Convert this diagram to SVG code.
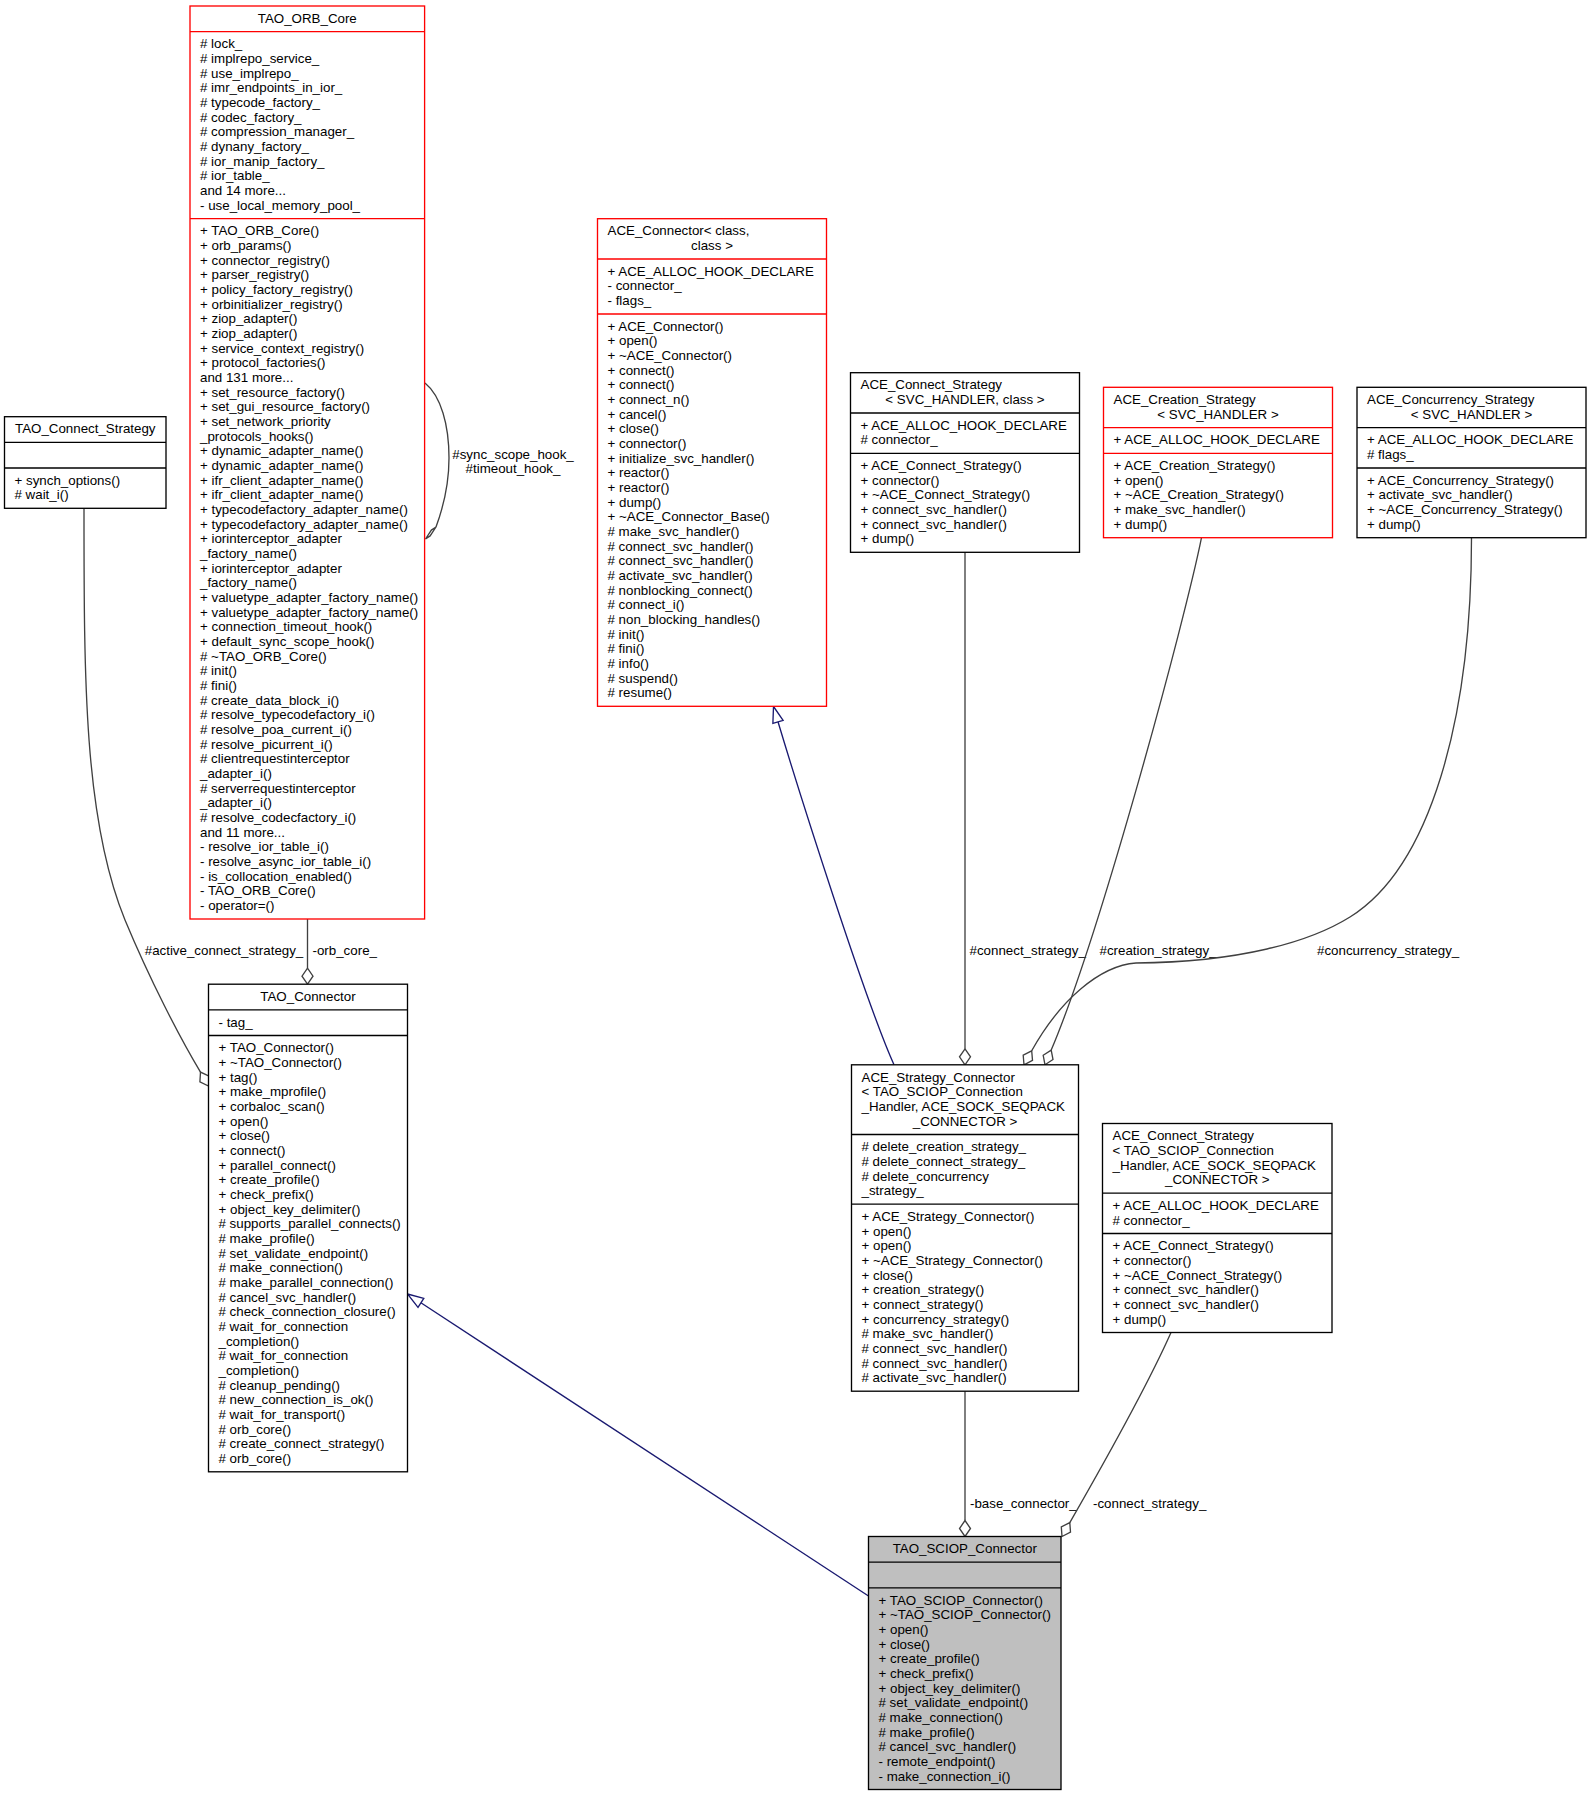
<svg xmlns="http://www.w3.org/2000/svg" width="1592" height="1795" viewBox="0 0 1592 1795">
<style>
text{font-family:"Liberation Sans",Arial,Helvetica,sans-serif;font-size:13.33px;fill:#000}
.b{fill:#fff;stroke:#000;stroke-width:1.33}
.r{stroke:#ff0000}
.g{fill:#bfbfbf}
.s{stroke:#000;stroke-width:1.33}
.sr{stroke:#ff0000;stroke-width:1.33}
.e{fill:none;stroke:#404040;stroke-width:1.33}
.i{fill:none;stroke:#191970;stroke-width:1.33}
.d{fill:#fff;stroke:#404040;stroke-width:1.33}
.t{fill:#fff;stroke:#191970;stroke-width:1.33}
.c{text-anchor:middle}
</style>
<rect width="1592" height="1795" fill="#fff"/>

<g id="edges">
  <path class="e" d="M425,383 C441,396 449,425 449,458 C449,485 443,508 436,527"/>
  <polygon class="d" points="425.5,539 430.1,535.9 436,527 431.4,530.1"/>
  <text class="c" x="513" y="459">#sync_scope_hook_</text>
  <text class="c" x="513" y="473">#timeout_hook_</text>

  <path class="e" d="M307.5,919 L307.5,968.2"/>
  <polygon class="d" points="307.5,984.2 313,976.2 307.5,968.2 302,976.2"/>
  <text x="312.5" y="955">-orb_core_</text>

  <path class="e" d="M84,508.3 C84,680 84,820 125,920 C150,980 180,1038 200.5,1072.1"/>
  <polygon class="d" points="208.5,1086 209.1,1076.2 200.5,1072.1 199.9,1081.9"/>
  <text class="c" x="224" y="955">#active_connect_strategy_</text>

  <path class="i" d="M894,1064.8 C865,1000 800,795 778,721.8"/>
  <polygon class="t" points="773.5,706.5 783.1,720.3 772.9,723.3"/>

  <path class="i" d="M868.5,1596 L420.9,1302.8"/>
  <polygon class="t" points="407.5,1294 423.8,1298.3 418,1307.3"/>

  <path class="e" d="M965,552.3 L965,1048.8"/>
  <polygon class="d" points="965,1064.8 970.5,1056.8 965,1048.8 959.5,1056.8"/>
  <text x="969.5" y="955">#connect_strategy_</text>

  <path class="e" d="M1201.5,537.7 C1185,620 1100,935 1051.2,1050.1"/>
  <polygon class="d" points="1045,1064.8 1053,1059.5 1051.2,1050.1 1043.2,1055.3"/>
  <text x="1099.5" y="955">#creation_strategy_</text>

  <path class="e" d="M1471.5,537.7 C1471.5,720 1430,867 1350,917 C1310,942 1240,962 1136,963 C1100,965.5 1060,1000 1031.7,1050.8"/>
  <polygon class="d" points="1024,1064.8 1032.5,1060.4 1031.7,1050.8 1023.2,1055.2"/>
  <text x="1317" y="955">#concurrency_strategy_</text>

  <path class="e" d="M965,1391.2 L965,1520.5"/>
  <polygon class="d" points="965,1536.5 970.5,1528.5 965,1520.5 959.5,1528.5"/>
  <text x="970" y="1508">-base_connector_</text>

  <path class="e" d="M1171,1332.5 C1150,1380 1100,1470 1069.8,1522.6"/>
  <polygon class="d" points="1062,1536.5 1070.5,1532.1 1069.8,1522.6 1061.3,1526.9"/>
  <text x="1093" y="1508">-connect_strategy_</text>
</g>

<g id="node-TAO_ORB_Core">
  <rect class="b r" x="190" y="6" width="234.6" height="913"/>
  <line class="sr" x1="190" y1="31.67" x2="424.6" y2="31.67"/>
  <line class="sr" x1="190" y1="218.67" x2="424.6" y2="218.67"/>
  <text class="c" x="307.3" y="22.7">TAO_ORB_Core</text>
  <text x="200" y="48.4"><tspan x="200"># lock_</tspan><tspan x="200" dy="14.667"># implrepo_service_</tspan><tspan x="200" dy="14.667"># use_implrepo_</tspan><tspan x="200" dy="14.667"># imr_endpoints_in_ior_</tspan><tspan x="200" dy="14.667"># typecode_factory_</tspan><tspan x="200" dy="14.667"># codec_factory_</tspan><tspan x="200" dy="14.667"># compression_manager_</tspan><tspan x="200" dy="14.667"># dynany_factory_</tspan><tspan x="200" dy="14.667"># ior_manip_factory_</tspan><tspan x="200" dy="14.667"># ior_table_</tspan><tspan x="200" dy="14.667">and 14 more...</tspan><tspan x="200" dy="14.667">- use_local_memory_pool_</tspan></text>
  <text x="200" y="235.4"><tspan x="200">+ TAO_ORB_Core()</tspan><tspan x="200" dy="14.667">+ orb_params()</tspan><tspan x="200" dy="14.667">+ connector_registry()</tspan><tspan x="200" dy="14.667">+ parser_registry()</tspan><tspan x="200" dy="14.667">+ policy_factory_registry()</tspan><tspan x="200" dy="14.667">+ orbinitializer_registry()</tspan><tspan x="200" dy="14.667">+ ziop_adapter()</tspan><tspan x="200" dy="14.667">+ ziop_adapter()</tspan><tspan x="200" dy="14.667">+ service_context_registry()</tspan><tspan x="200" dy="14.667">+ protocol_factories()</tspan><tspan x="200" dy="14.667">and 131 more...</tspan><tspan x="200" dy="14.667">+ set_resource_factory()</tspan><tspan x="200" dy="14.667">+ set_gui_resource_factory()</tspan><tspan x="200" dy="14.667">+ set_network_priority</tspan><tspan x="200" dy="14.667">_protocols_hooks()</tspan><tspan x="200" dy="14.667">+ dynamic_adapter_name()</tspan><tspan x="200" dy="14.667">+ dynamic_adapter_name()</tspan><tspan x="200" dy="14.667">+ ifr_client_adapter_name()</tspan><tspan x="200" dy="14.667">+ ifr_client_adapter_name()</tspan><tspan x="200" dy="14.667">+ typecodefactory_adapter_name()</tspan><tspan x="200" dy="14.667">+ typecodefactory_adapter_name()</tspan><tspan x="200" dy="14.667">+ iorinterceptor_adapter</tspan><tspan x="200" dy="14.667">_factory_name()</tspan><tspan x="200" dy="14.667">+ iorinterceptor_adapter</tspan><tspan x="200" dy="14.667">_factory_name()</tspan><tspan x="200" dy="14.667">+ valuetype_adapter_factory_name()</tspan><tspan x="200" dy="14.667">+ valuetype_adapter_factory_name()</tspan><tspan x="200" dy="14.667">+ connection_timeout_hook()</tspan><tspan x="200" dy="14.667">+ default_sync_scope_hook()</tspan><tspan x="200" dy="14.667"># ~TAO_ORB_Core()</tspan><tspan x="200" dy="14.667"># init()</tspan><tspan x="200" dy="14.667"># fini()</tspan><tspan x="200" dy="14.667"># create_data_block_i()</tspan><tspan x="200" dy="14.667"># resolve_typecodefactory_i()</tspan><tspan x="200" dy="14.667"># resolve_poa_current_i()</tspan><tspan x="200" dy="14.667"># resolve_picurrent_i()</tspan><tspan x="200" dy="14.667"># clientrequestinterceptor</tspan><tspan x="200" dy="14.667">_adapter_i()</tspan><tspan x="200" dy="14.667"># serverrequestinterceptor</tspan><tspan x="200" dy="14.667">_adapter_i()</tspan><tspan x="200" dy="14.667"># resolve_codecfactory_i()</tspan><tspan x="200" dy="14.667">and 11 more...</tspan><tspan x="200" dy="14.667">- resolve_ior_table_i()</tspan><tspan x="200" dy="14.667">- resolve_async_ior_table_i()</tspan><tspan x="200" dy="14.667">- is_collocation_enabled()</tspan><tspan x="200" dy="14.667">- TAO_ORB_Core()</tspan><tspan x="200" dy="14.667">- operator=()</tspan></text>
</g>

<g id="node-TAO_Connect_Strategy">
  <rect class="b" x="4.5" y="416.7" width="161.5" height="91.6"/>
  <line class="s" x1="4.5" y1="442.3" x2="166" y2="442.3"/>
  <line class="s" x1="4.5" y1="468" x2="166" y2="468"/>
  <text class="c" x="85.25" y="433.4">TAO_Connect_Strategy</text>
  <text x="14.5" y="484.7"><tspan x="14.5">+ synch_options()</tspan><tspan x="14.5" dy="14.667"># wait_i()</tspan></text>
</g>

<g id="node-ACE_Connector">
  <rect class="b r" x="597.5" y="218.7" width="229" height="487.6"/>
  <line class="sr" x1="597.5" y1="259" x2="826.5" y2="259"/>
  <line class="sr" x1="597.5" y1="314" x2="826.5" y2="314"/>
  <text x="607.5" y="235.4">ACE_Connector&lt; class,</text>
  <text class="c" x="712" y="250.1">class &gt;</text>
  <text x="607.5" y="275.7"><tspan x="607.5">+ ACE_ALLOC_HOOK_DECLARE</tspan><tspan x="607.5" dy="14.667">- connector_</tspan><tspan x="607.5" dy="14.667">- flags_</tspan></text>
  <text x="607.5" y="330.7"><tspan x="607.5">+ ACE_Connector()</tspan><tspan x="607.5" dy="14.667">+ open()</tspan><tspan x="607.5" dy="14.667">+ ~ACE_Connector()</tspan><tspan x="607.5" dy="14.667">+ connect()</tspan><tspan x="607.5" dy="14.667">+ connect()</tspan><tspan x="607.5" dy="14.667">+ connect_n()</tspan><tspan x="607.5" dy="14.667">+ cancel()</tspan><tspan x="607.5" dy="14.667">+ close()</tspan><tspan x="607.5" dy="14.667">+ connector()</tspan><tspan x="607.5" dy="14.667">+ initialize_svc_handler()</tspan><tspan x="607.5" dy="14.667">+ reactor()</tspan><tspan x="607.5" dy="14.667">+ reactor()</tspan><tspan x="607.5" dy="14.667">+ dump()</tspan><tspan x="607.5" dy="14.667">+ ~ACE_Connector_Base()</tspan><tspan x="607.5" dy="14.667"># make_svc_handler()</tspan><tspan x="607.5" dy="14.667"># connect_svc_handler()</tspan><tspan x="607.5" dy="14.667"># connect_svc_handler()</tspan><tspan x="607.5" dy="14.667"># activate_svc_handler()</tspan><tspan x="607.5" dy="14.667"># nonblocking_connect()</tspan><tspan x="607.5" dy="14.667"># connect_i()</tspan><tspan x="607.5" dy="14.667"># non_blocking_handles()</tspan><tspan x="607.5" dy="14.667"># init()</tspan><tspan x="607.5" dy="14.667"># fini()</tspan><tspan x="607.5" dy="14.667"># info()</tspan><tspan x="607.5" dy="14.667"># suspend()</tspan><tspan x="607.5" dy="14.667"># resume()</tspan></text>
</g>

<g id="node-ACE_Connect_Strategy_SVC">
  <rect class="b" x="850.5" y="372.7" width="229" height="179.6"/>
  <line class="s" x1="850.5" y1="413" x2="1079.5" y2="413"/>
  <line class="s" x1="850.5" y1="453.3" x2="1079.5" y2="453.3"/>
  <text x="860.5" y="389.4">ACE_Connect_Strategy</text>
  <text class="c" x="965" y="404.1">&lt; SVC_HANDLER, class &gt;</text>
  <text x="860.5" y="429.7"><tspan x="860.5">+ ACE_ALLOC_HOOK_DECLARE</tspan><tspan x="860.5" dy="14.667"># connector_</tspan></text>
  <text x="860.5" y="470"><tspan x="860.5">+ ACE_Connect_Strategy()</tspan><tspan x="860.5" dy="14.667">+ connector()</tspan><tspan x="860.5" dy="14.667">+ ~ACE_Connect_Strategy()</tspan><tspan x="860.5" dy="14.667">+ connect_svc_handler()</tspan><tspan x="860.5" dy="14.667">+ connect_svc_handler()</tspan><tspan x="860.5" dy="14.667">+ dump()</tspan></text>
</g>

<g id="node-ACE_Creation_Strategy">
  <rect class="b r" x="1103.5" y="387.3" width="229" height="150.4"/>
  <line class="sr" x1="1103.5" y1="427.7" x2="1332.5" y2="427.7"/>
  <line class="sr" x1="1103.5" y1="453.3" x2="1332.5" y2="453.3"/>
  <text x="1113.5" y="404">ACE_Creation_Strategy</text>
  <text class="c" x="1218" y="418.7">&lt; SVC_HANDLER &gt;</text>
  <text x="1113.5" y="444.4">+ ACE_ALLOC_HOOK_DECLARE</text>
  <text x="1113.5" y="470"><tspan x="1113.5">+ ACE_Creation_Strategy()</tspan><tspan x="1113.5" dy="14.667">+ open()</tspan><tspan x="1113.5" dy="14.667">+ ~ACE_Creation_Strategy()</tspan><tspan x="1113.5" dy="14.667">+ make_svc_handler()</tspan><tspan x="1113.5" dy="14.667">+ dump()</tspan></text>
</g>

<g id="node-ACE_Concurrency_Strategy">
  <rect class="b" x="1357" y="387.3" width="229" height="150.4"/>
  <line class="s" x1="1357" y1="427.7" x2="1586" y2="427.7"/>
  <line class="s" x1="1357" y1="468" x2="1586" y2="468"/>
  <text x="1367" y="404">ACE_Concurrency_Strategy</text>
  <text class="c" x="1471.5" y="418.7">&lt; SVC_HANDLER &gt;</text>
  <text x="1367" y="444.4"><tspan x="1367">+ ACE_ALLOC_HOOK_DECLARE</tspan><tspan x="1367" dy="14.667"># flags_</tspan></text>
  <text x="1367" y="484.7"><tspan x="1367">+ ACE_Concurrency_Strategy()</tspan><tspan x="1367" dy="14.667">+ activate_svc_handler()</tspan><tspan x="1367" dy="14.667">+ ~ACE_Concurrency_Strategy()</tspan><tspan x="1367" dy="14.667">+ dump()</tspan></text>
</g>

<g id="node-TAO_Connector">
  <rect class="b" x="208.5" y="984.2" width="199" height="487.6"/>
  <line class="s" x1="208.5" y1="1009.9" x2="407.5" y2="1009.9"/>
  <line class="s" x1="208.5" y1="1035.5" x2="407.5" y2="1035.5"/>
  <text class="c" x="308" y="1000.9">TAO_Connector</text>
  <text x="218.5" y="1026.6">- tag_</text>
  <text x="218.5" y="1052.2"><tspan x="218.5">+ TAO_Connector()</tspan><tspan x="218.5" dy="14.667">+ ~TAO_Connector()</tspan><tspan x="218.5" dy="14.667">+ tag()</tspan><tspan x="218.5" dy="14.667">+ make_mprofile()</tspan><tspan x="218.5" dy="14.667">+ corbaloc_scan()</tspan><tspan x="218.5" dy="14.667">+ open()</tspan><tspan x="218.5" dy="14.667">+ close()</tspan><tspan x="218.5" dy="14.667">+ connect()</tspan><tspan x="218.5" dy="14.667">+ parallel_connect()</tspan><tspan x="218.5" dy="14.667">+ create_profile()</tspan><tspan x="218.5" dy="14.667">+ check_prefix()</tspan><tspan x="218.5" dy="14.667">+ object_key_delimiter()</tspan><tspan x="218.5" dy="14.667"># supports_parallel_connects()</tspan><tspan x="218.5" dy="14.667"># make_profile()</tspan><tspan x="218.5" dy="14.667"># set_validate_endpoint()</tspan><tspan x="218.5" dy="14.667"># make_connection()</tspan><tspan x="218.5" dy="14.667"># make_parallel_connection()</tspan><tspan x="218.5" dy="14.667"># cancel_svc_handler()</tspan><tspan x="218.5" dy="14.667"># check_connection_closure()</tspan><tspan x="218.5" dy="14.667"># wait_for_connection</tspan><tspan x="218.5" dy="14.667">_completion()</tspan><tspan x="218.5" dy="14.667"># wait_for_connection</tspan><tspan x="218.5" dy="14.667">_completion()</tspan><tspan x="218.5" dy="14.667"># cleanup_pending()</tspan><tspan x="218.5" dy="14.667"># new_connection_is_ok()</tspan><tspan x="218.5" dy="14.667"># wait_for_transport()</tspan><tspan x="218.5" dy="14.667"># orb_core()</tspan><tspan x="218.5" dy="14.667"># create_connect_strategy()</tspan><tspan x="218.5" dy="14.667"># orb_core()</tspan></text>
</g>

<g id="node-ACE_Strategy_Connector">
  <rect class="b" x="851.5" y="1064.8" width="227" height="326.4"/>
  <line class="s" x1="851.5" y1="1134.5" x2="1078.5" y2="1134.5"/>
  <line class="s" x1="851.5" y1="1204.2" x2="1078.5" y2="1204.2"/>
  <text x="861.5" y="1081.5"><tspan x="861.5">ACE_Strategy_Connector</tspan><tspan x="861.5" dy="14.667">&lt; TAO_SCIOP_Connection</tspan><tspan x="861.5" dy="14.667">_Handler, ACE_SOCK_SEQPACK</tspan></text>
  <text class="c" x="965" y="1125.5">_CONNECTOR &gt;</text>
  <text x="861.5" y="1151.2"><tspan x="861.5"># delete_creation_strategy_</tspan><tspan x="861.5" dy="14.667"># delete_connect_strategy_</tspan><tspan x="861.5" dy="14.667"># delete_concurrency</tspan><tspan x="861.5" dy="14.667">_strategy_</tspan></text>
  <text x="861.5" y="1220.9"><tspan x="861.5">+ ACE_Strategy_Connector()</tspan><tspan x="861.5" dy="14.667">+ open()</tspan><tspan x="861.5" dy="14.667">+ open()</tspan><tspan x="861.5" dy="14.667">+ ~ACE_Strategy_Connector()</tspan><tspan x="861.5" dy="14.667">+ close()</tspan><tspan x="861.5" dy="14.667">+ creation_strategy()</tspan><tspan x="861.5" dy="14.667">+ connect_strategy()</tspan><tspan x="861.5" dy="14.667">+ concurrency_strategy()</tspan><tspan x="861.5" dy="14.667"># make_svc_handler()</tspan><tspan x="861.5" dy="14.667"># connect_svc_handler()</tspan><tspan x="861.5" dy="14.667"># connect_svc_handler()</tspan><tspan x="861.5" dy="14.667"># activate_svc_handler()</tspan></text>
</g>

<g id="node-ACE_Connect_Strategy_TAO">
  <rect class="b" x="1102.5" y="1123.5" width="229.5" height="209"/>
  <line class="s" x1="1102.5" y1="1193.2" x2="1332" y2="1193.2"/>
  <line class="s" x1="1102.5" y1="1233.5" x2="1332" y2="1233.5"/>
  <text x="1112.5" y="1140.2"><tspan x="1112.5">ACE_Connect_Strategy</tspan><tspan x="1112.5" dy="14.667">&lt; TAO_SCIOP_Connection</tspan><tspan x="1112.5" dy="14.667">_Handler, ACE_SOCK_SEQPACK</tspan></text>
  <text class="c" x="1217.25" y="1184.2">_CONNECTOR &gt;</text>
  <text x="1112.5" y="1209.9"><tspan x="1112.5">+ ACE_ALLOC_HOOK_DECLARE</tspan><tspan x="1112.5" dy="14.667"># connector_</tspan></text>
  <text x="1112.5" y="1250.2"><tspan x="1112.5">+ ACE_Connect_Strategy()</tspan><tspan x="1112.5" dy="14.667">+ connector()</tspan><tspan x="1112.5" dy="14.667">+ ~ACE_Connect_Strategy()</tspan><tspan x="1112.5" dy="14.667">+ connect_svc_handler()</tspan><tspan x="1112.5" dy="14.667">+ connect_svc_handler()</tspan><tspan x="1112.5" dy="14.667">+ dump()</tspan></text>
</g>

<g id="node-TAO_SCIOP_Connector">
  <rect class="b g" x="868.5" y="1536.5" width="192.5" height="253"/>
  <line class="s" x1="868.5" y1="1562.2" x2="1061" y2="1562.2"/>
  <line class="s" x1="868.5" y1="1587.8" x2="1061" y2="1587.8"/>
  <text class="c" x="964.75" y="1553.2">TAO_SCIOP_Connector</text>
  <text x="878.5" y="1604.5"><tspan x="878.5">+ TAO_SCIOP_Connector()</tspan><tspan x="878.5" dy="14.667">+ ~TAO_SCIOP_Connector()</tspan><tspan x="878.5" dy="14.667">+ open()</tspan><tspan x="878.5" dy="14.667">+ close()</tspan><tspan x="878.5" dy="14.667">+ create_profile()</tspan><tspan x="878.5" dy="14.667">+ check_prefix()</tspan><tspan x="878.5" dy="14.667">+ object_key_delimiter()</tspan><tspan x="878.5" dy="14.667"># set_validate_endpoint()</tspan><tspan x="878.5" dy="14.667"># make_connection()</tspan><tspan x="878.5" dy="14.667"># make_profile()</tspan><tspan x="878.5" dy="14.667"># cancel_svc_handler()</tspan><tspan x="878.5" dy="14.667">- remote_endpoint()</tspan><tspan x="878.5" dy="14.667">- make_connection_i()</tspan></text>
</g>
</svg>
